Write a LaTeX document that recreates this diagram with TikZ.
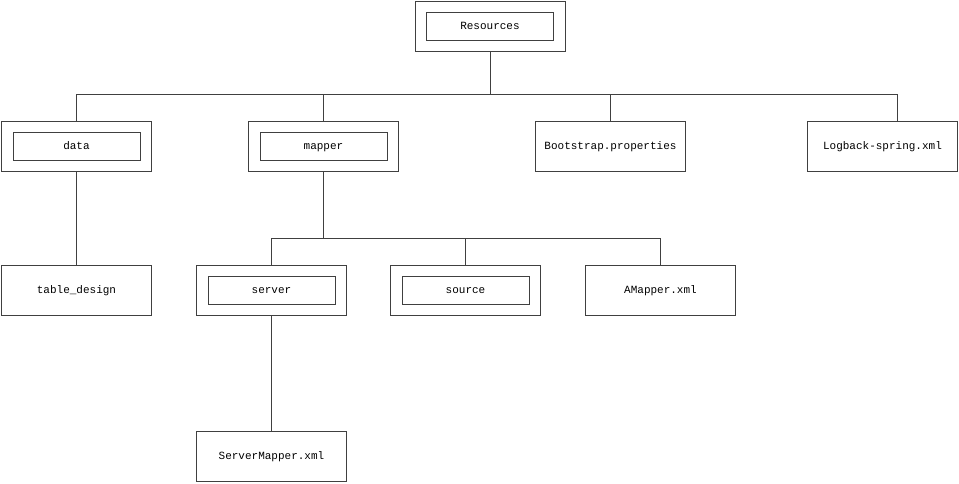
\documentclass[tikz,border=0pt]{standalone}
\usepackage{fontspec}
\setmonofont{Liberation Mono}
\usepackage{tikz}
\usetikzlibrary{positioning}
\definecolor{edgegray}{HTML}{404040}

\begin{document}
\begin{tikzpicture}[
x=1pt,y=-1pt,
leaf/.style={draw=edgegray,line width=1pt,minimum width=150pt,minimum height=50pt,text height=8pt,text depth=2.5pt,font=\ttfamily\fontsize{11}{13}\selectfont},
folder/.style={draw=edgegray,line width=1pt,double=white,double distance=10.5pt,outer sep=6.25pt,minimum width=138.5pt,minimum height=39pt,text height=8pt,text depth=2.5pt,font=\ttfamily\fontsize{11}{13}\selectfont},
conn/.style={draw=edgegray,line width=1pt}
]
\useasboundingbox (0,0) rectangle (959,483);
\node[folder] (res) at (490,26.5) {Resources};
\node[folder] (data) at (76.5,146.5) {data};
\node[folder] (mapper) at (323.5,146.5) {mapper};
\node[leaf] (boot) at (610.5,146.5) {Bootstrap.properties};
\node[leaf] (logback) at (882.5,146.5) {Logback-spring.xml};
\node[leaf] (table) at (76.5,290.5) {table\_design};
\node[folder] (server) at (271.5,290.5) {server};
\node[folder] (source) at (465.5,290.5) {source};
\node[leaf] (amapper) at (660.5,290.5) {AMapper.xml};
\node[leaf] (srvmapper) at (271.5,456.5) {ServerMapper.xml};
\coordinate (topbus) at (490,94);
\coordinate (mapbus) at (323.5,238);
\draw[conn] (res.south) -- (topbus);
\draw[conn] (topbus) -| (data.north);
\draw[conn] (topbus) -| (mapper.north);
\draw[conn] (topbus) -| (boot.north);
\draw[conn] (topbus) -| ([xshift=14.5pt]logback.north);
\draw[conn] (data.south) -- (table.north);
\draw[conn] (mapper.south) -- (mapbus);
\draw[conn] (mapbus) -| (server.north);
\draw[conn] (mapbus) -| (source.north);
\draw[conn] (mapbus) -| (amapper.north);
\draw[conn] (server.south) -- (srvmapper.north);
\end{tikzpicture}
\end{document}
